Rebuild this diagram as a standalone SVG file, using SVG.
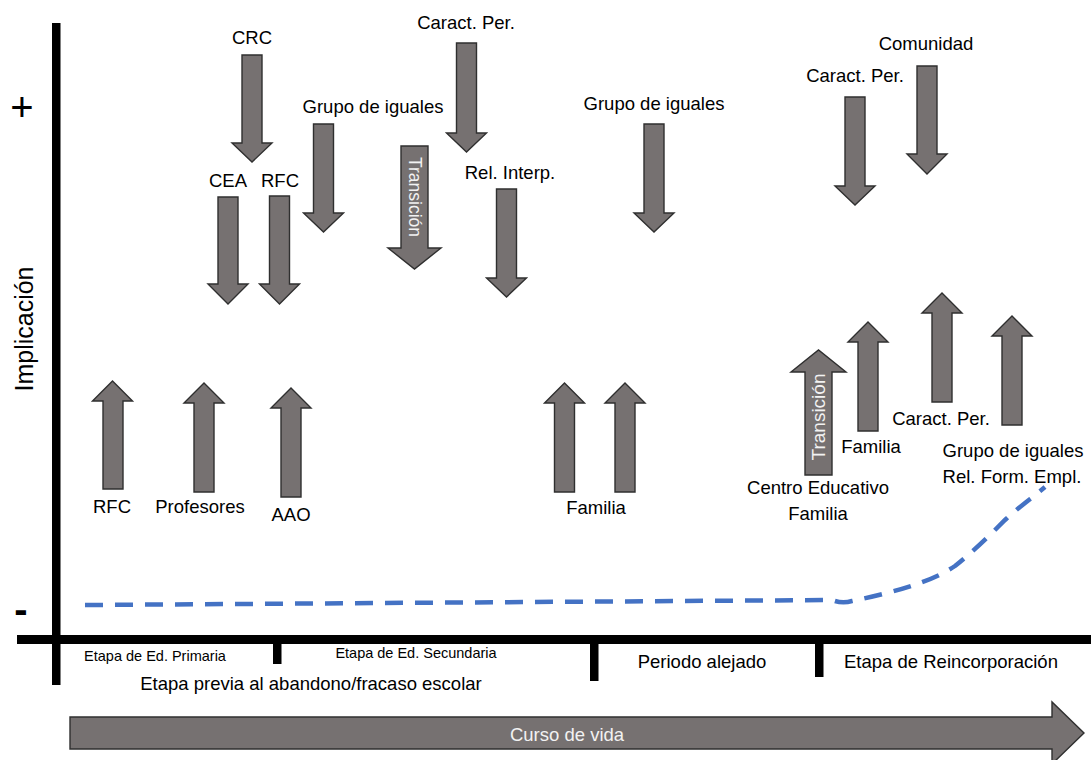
<svg xmlns="http://www.w3.org/2000/svg" width="1091" height="760" viewBox="0 0 1091 760">
  <style>
    .arr { fill: #767171; stroke: #2f2f2f; stroke-width: 1.4; stroke-linejoin: miter; }
    .lbl { font-family: "Liberation Sans", Arial, sans-serif; font-size: 18.5px; fill: #000; text-anchor: middle; }
    .in  { font-family: "Liberation Sans", Arial, sans-serif; fill: #f2f2f2; text-anchor: middle; }
    .sm  { font-family: "Liberation Sans", Arial, sans-serif; font-size: 14.5px; fill: #000; text-anchor: middle; }
    .axis { fill: #000; }
  </style>
  <rect width="1091" height="760" fill="#fff"/>

  <!-- axes and stage ticks -->
  <g id="axes">
    <rect class="axis" x="52" y="23" width="8.5" height="662"/>
    <rect class="axis" x="17" y="635" width="1074" height="9"/>
    <rect class="axis" x="273" y="644" width="8.5" height="20"/>
    <rect class="axis" x="590" y="644" width="8.5" height="37"/>
    <rect class="axis" x="815" y="644" width="8.5" height="33"/>
    <text x="22" y="121" font-family="Liberation Sans, Arial, sans-serif" font-size="40" text-anchor="middle">+</text>
    <text x="21" y="623" font-family="Liberation Sans, Arial, sans-serif" font-size="40" font-weight="bold" text-anchor="middle">-</text>
    <text transform="translate(33,329) rotate(-90)" font-family="Liberation Sans, Arial, sans-serif" font-size="25" text-anchor="middle">Implicación</text>
  </g>

  <!-- stage labels -->
  <g id="stages">
    <text class="sm" x="155" y="661">Etapa de Ed. Primaria</text>
    <text class="sm" x="416" y="658">Etapa de Ed. Secundaria</text>
    <text class="lbl" x="311" y="690">Etapa previa al abandono/fracaso escolar</text>
    <text class="lbl" x="702" y="668">Periodo alejado</text>
    <text class="lbl" x="951" y="668">Etapa de Reincorporación</text>
  </g>

  <!-- downward influences -->
  <g id="crc">
    <path class="arr" d="M242,55 H262 V143 H272 L252,162 L232,143 H242 Z"/>
    <text class="lbl" x="252" y="44">CRC</text>
  </g>
  <g id="cea">
    <path class="arr" d="M218,197 H238 V284 H248 L228,304 L208,284 H218 Z"/>
    <text class="lbl" x="228" y="187">CEA</text>
  </g>
  <g id="rfc-down">
    <path class="arr" d="M269.5,196 H289.5 V284 H299.5 L279.5,304 L259.5,284 H269.5 Z"/>
    <text class="lbl" x="280" y="187">RFC</text>
  </g>
  <g id="grupo-iguales-1">
    <path class="arr" d="M313.5,124 H333.5 V213 H343.5 L323.5,232 L303.5,213 H313.5 Z"/>
    <text class="lbl" x="373" y="113">Grupo de iguales</text>
  </g>
  <g id="caract-per-1">
    <path class="arr" d="M456.5,43 H476.5 V133 H486.5 L466.5,152 L446.5,133 H456.5 Z"/>
    <text class="lbl" x="466" y="29">Caract. Per.</text>
  </g>
  <g id="transicion-down">
    <path class="arr" d="M401,146 H428 V248 H441 L414.5,269 L388,248 H401 Z"/>
    <text class="in" font-size="17.5" transform="translate(408.5,197) rotate(90)">Transición</text>
  </g>
  <g id="rel-interp">
    <path class="arr" d="M496.5,189 H516.5 V278 H526.5 L506.5,297 L486.5,278 H496.5 Z"/>
    <text class="lbl" x="510" y="179">Rel. Interp.</text>
  </g>
  <g id="grupo-iguales-2">
    <path class="arr" d="M644,124 H664 V213 H674 L654,232 L634,213 H644 Z"/>
    <text class="lbl" x="654" y="110">Grupo de iguales</text>
  </g>
  <g id="comunidad">
    <path class="arr" d="M917,66 H937 V154 H947 L927,174 L907,154 H917 Z"/>
    <text class="lbl" x="926" y="50">Comunidad</text>
  </g>
  <g id="caract-per-2">
    <path class="arr" d="M845,97 H865 V186 H875 L855,205 L835,186 H845 Z"/>
    <text class="lbl" x="855" y="82">Caract. Per.</text>
  </g>

  <!-- upward influences -->
  <g id="rfc-up">
    <path class="arr" d="M103,489 H123 V401 H132.5 L112.5,381 L92.5,401 H103 Z"/>
    <text class="lbl" x="112" y="513">RFC</text>
  </g>
  <g id="profesores">
    <path class="arr" d="M194,492 H214 V403 H224 L204,383 L184,403 H194 Z"/>
    <text class="lbl" x="200" y="513">Profesores</text>
  </g>
  <g id="aao">
    <path class="arr" d="M281,497 H301 V408 H311 L291,388 L271,408 H281 Z"/>
    <text class="lbl" x="291" y="521">AAO</text>
  </g>
  <g id="familia-1">
    <path class="arr" d="M554.5,492 H574.5 V403 H584.5 L564.5,383 L544.5,403 H554.5 Z"/>
    <path class="arr" d="M615,492 H635 V403 H645 L625,383 L605,403 H615 Z"/>
    <text class="lbl" x="596" y="514">Familia</text>
  </g>
  <g id="transicion-up">
    <path class="arr" d="M805,475 H832 V372 H846 L818.5,350 L791,372 H805 Z"/>
    <text class="in" font-size="19" transform="translate(825,417) rotate(-90)">Transición</text>
    <text class="lbl" x="818" y="494">Centro Educativo</text>
    <text class="lbl" x="818" y="520">Familia</text>
  </g>
  <g id="familia-2">
    <path class="arr" d="M858,431 H878 V342 H888 L868,322 L848,342 H858 Z"/>
    <text class="lbl" x="871" y="453">Familia</text>
  </g>
  <g id="caract-per-3">
    <path class="arr" d="M932,402 H952 V313 H962 L942,293 L922,313 H932 Z"/>
    <text class="lbl" x="941" y="425">Caract. Per.</text>
  </g>
  <g id="grupo-iguales-3">
    <path class="arr" d="M1002,425 H1022 V336 H1032 L1012,316 L992,336 H1002 Z"/>
    <text class="lbl" x="1013" y="457">Grupo de iguales</text>
    <text class="lbl" x="1012" y="483">Rel. Form. Empl.</text>
  </g>

  <!-- involvement trajectory -->
  <g id="connectors">
    <path d="M85,605 L832,600 Q842,604 852,601 C890,593 930,583 955,566 C975,550 990,535 1005,520 C1020,506 1032,498 1045,487" fill="none" stroke="#4472c4" stroke-width="4.5" stroke-dasharray="18 12"/>
  </g>

  <!-- life course arrow -->
  <g id="curso-de-vida">
    <path class="arr" d="M70,717 H1052 V702 L1084,733 L1052,764 V749 H70 Z"/>
    <text class="in" font-size="18.5" x="567" y="741">Curso de vida</text>
  </g>
</svg>
